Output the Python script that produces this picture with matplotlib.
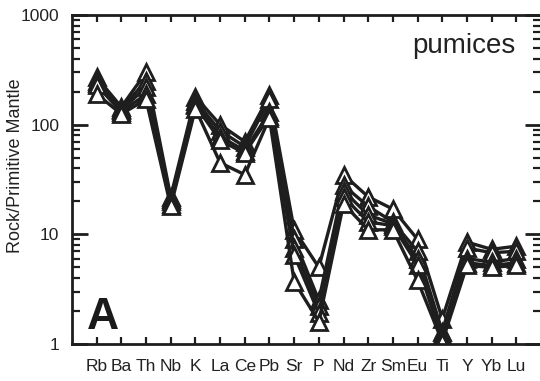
import numpy as np
import matplotlib
matplotlib.use("Agg")
import matplotlib.pyplot as plt
from matplotlib.ticker import LogLocator, NullFormatter, FixedLocator

plt.rcParams['font.family'] = ['Liberation Sans', 'DejaVu Sans']

elements = ["Rb", "Ba", "Th", "Nb", "K", "La", "Ce", "Pb", "Sr", "P",
            "Nd", "Zr", "Sm", "Eu", "Ti", "Y", "Yb", "Lu"]

# primitive-mantle normalised concentrations, one list per pumice sample
pum_1 = [270, 145, 300, 22, 180, 100, 70, 185, 11.0, 5.0, 35, 22, 17.0, 9.0, 1.70, 8.5, 7.3, 7.8]
pum_2 = [250, 140, 250, 21, 165, 88, 63, 170, 9.0, 2.5, 28, 18, 13.0, 7.0, 1.30, 7.5, 6.8, 7.0]
pum_3 = [240, 135, 220, 20, 155, 78, 58, 130, 7.5, 2.2, 25, 15, 12.5, 6.0, 1.20, 6.0, 5.6, 6.0]
pum_4 = [230, 130, 190, 19, 150, 72, 55, 120, 6.5, 1.9, 22, 13, 12.0, 5.3, 1.10, 5.5, 5.2, 5.5]
pum_5 = [190, 125, 170, 18, 140, 45, 35, 115, 3.7, 1.6, 19, 11, 11.0, 3.8, 1.05, 5.2, 5.0, 5.2]
samples = [pum_1, pum_2, pum_3, pum_4, pum_5]

ink = "#1e1e1e"

fig = plt.figure(figsize=(5.4, 3.81), dpi=100)
ax = fig.add_axes([0.1333, 0.0971, 0.8685, 0.8635])

x = np.arange(1, len(elements) + 1)
for s in samples:
    ax.plot(x, s, "-", color=ink, lw=2.4, marker="^", ms=11.5,
            mfc="white", mec=ink, mew=2.0)

ax.set_yscale("log")
ax.set_ylim(1, 1000)
ax.set_xlim(0, len(elements) + 1)

ax.xaxis.set_major_locator(FixedLocator(x))
ax.set_xticklabels(elements)
ax.yaxis.set_major_locator(FixedLocator([1, 10, 100, 1000]))
ax.set_yticklabels(["1", "10", "100", "1000"])
ax.yaxis.set_minor_locator(LogLocator(base=10, subs=np.arange(2, 10)))
ax.yaxis.set_minor_formatter(NullFormatter())

ax.tick_params(axis="x", which="major", direction="in", top=True, bottom=True,
               length=5, width=1.6, color=ink, labelsize=12.5, pad=11)
ax.tick_params(axis="y", which="major", direction="in", left=True, right=True,
               length=11.5, width=2.0, color=ink, labelsize=12.5, pad=9)
ax.tick_params(axis="y", which="minor", direction="in", left=True, right=True,
               length=5.8, width=1.6, color=ink)
for lab in ax.get_xticklabels() + ax.get_yticklabels():
    lab.set_color("#222222")

for sp in ax.spines.values():
    sp.set_linewidth(2.0)
    sp.set_color(ink)

# axis title placed by hand so it sits clear of the left edge
fig.text(16 / 540, 0.566, "Rock/Primitive Mantle", rotation=90, fontsize=13,
         ha="center", va="center", color="#222222")

ax.text(0.9446, 0.8845, "pumices", transform=ax.transAxes, fontsize=20,
        ha="right", va="baseline", color="#222222")
ax.text(0.032, 0.045, "A", transform=ax.transAxes, fontsize=32,
        fontweight="bold", ha="left", va="baseline", color="#1a1a1a")

fig.savefig("out.png", dpi=100)
